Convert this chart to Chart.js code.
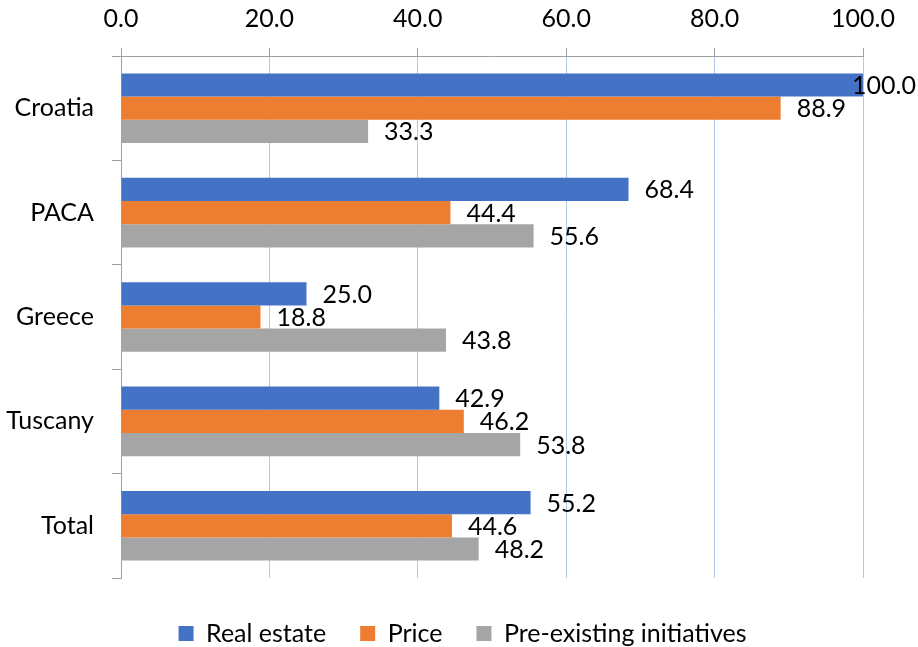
<!DOCTYPE html>
<html>
<head>
<meta charset="utf-8">
<script src="https://cdn.jsdelivr.net/npm/chart.js@4/dist/chart.umd.min.js"></script>
<style>
  html, body { margin: 0; padding: 0; background: #fff; }
  #wrap { width: 918px; height: 647px; }
</style>
</head>
<body>
<div id="wrap"><canvas id="chart" width="918" height="647"></canvas></div>
<script>
const regions = ['Croatia', 'PACA', 'Greece', 'Tuscany', 'Total'];
const realEstate = [100.0, 68.4, 25.0, 42.9, 55.2];
const price = [88.9, 44.4, 18.8, 46.2, 44.6];
const preExisting = [33.3, 55.6, 43.8, 53.8, 48.2];
const seriesNames = ['Real estate', 'Price', 'Pre-existing initiatives'];

const FONT = 'Lato, "Open Sans", sans-serif';
const FONT_SIZE = 25;

// Value labels at the outer end of each bar, kept inside the canvas
const valueLabels = {
  id: 'valueLabels',
  afterDatasetsDraw(chart) {
    const ctx = chart.ctx;
    ctx.save();
    ctx.font = FONT_SIZE + 'px ' + FONT;
    ctx.fillStyle = '#000';
    ctx.textAlign = 'left';
    ctx.textBaseline = 'middle';
    chart.data.datasets.forEach((ds, i) => {
      const meta = chart.getDatasetMeta(i);
      meta.data.forEach((bar, j) => {
        const txt = ds.data[j].toFixed(1);
        const w = ctx.measureText(txt).width;
        const x = Math.min(bar.x + 16, chart.width - w - 2);
        ctx.fillText(txt, x, bar.y + 1);
      });
    });
    ctx.restore();
  }
};

// Centre the legend on the whole canvas and drop it a little lower
const legendPlacement = {
  id: 'legendPlacement',
  afterLayout(chart) {
    const lg = chart.legend;
    if (!lg) return;
    const dx = 31, dy = 9;
    lg.left += dx; lg.right += dx;
    lg.top += dy; lg.bottom += dy;
  }
};

Chart.defaults.font.family = FONT;
Chart.defaults.font.size = FONT_SIZE;
Chart.defaults.color = '#000';

new Chart(document.getElementById('chart'), {
  type: 'bar',
  data: {
    labels: regions,
    datasets: [
      { label: seriesNames[0], data: realEstate, backgroundColor: '#4472C4' },
      { label: seriesNames[1], data: price, backgroundColor: '#ED7D31' },
      { label: seriesNames[2], data: preExisting, backgroundColor: '#A5A5A5' }
    ]
  },
  options: {
    indexAxis: 'y',
    responsive: false,
    animation: false,
    devicePixelRatio: 1,
    datasets: {
      bar: { categoryPercentage: 0.667, barPercentage: 1.0, borderWidth: 0 }
    },
    layout: { padding: { left: 0, right: 55, top: 0, bottom: 0 } },
    scales: {
      x: {
        position: 'top',
        min: 0,
        max: 100,
        ticks: {
          stepSize: 20,
          padding: 14,
          callback: v => Number(v).toFixed(1)
        },
        grid: {
          color: '#B4C7E7',
          lineWidth: 1,
          tickColor: '#A0A0A0',
          tickLength: 8
        },
        border: { color: '#A0A0A0', width: 1 },
        afterFit(scale) { scale.height = 56; }
      },
      y: {
        ticks: { padding: 18 },
        grid: {
          offset: true,
          drawOnChartArea: false,
          tickColor: '#A0A0A0',
          tickLength: 9
        },
        border: { color: '#A0A0A0', width: 1 },
        afterFit(scale) { scale.width = 121; }
      }
    },
    plugins: {
      legend: {
        position: 'bottom',
        labels: {
          boxWidth: 15,
          boxHeight: 15,
          padding: 34,
          color: '#000',
          font: { size: FONT_SIZE }
        }
      },
      tooltip: { enabled: false }
    }
  },
  plugins: [valueLabels, legendPlacement]
});
</script>
</body>
</html>
